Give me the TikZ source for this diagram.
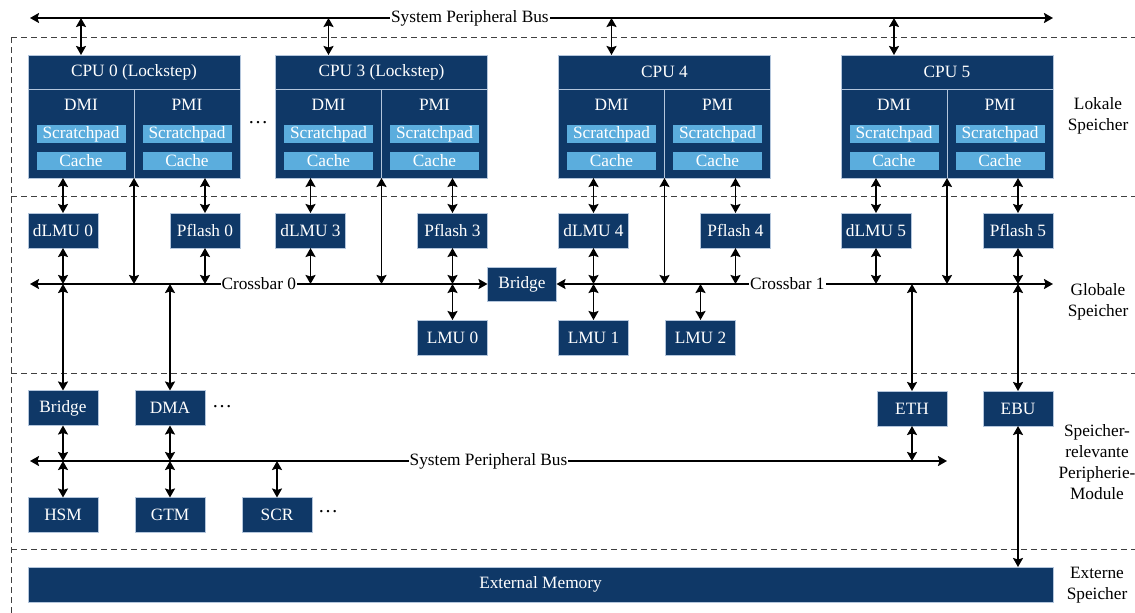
\documentclass[tikz,border=0pt]{standalone}
\usepackage{fontspec}
\setmainfont{Liberation Serif}
\usepackage{tikz}
\usetikzlibrary{arrows.meta, positioning, calc}
\definecolor{navy}{HTML}{0F3867}
\definecolor{sky}{HTML}{5BADDD}
\definecolor{rim}{HTML}{B4C6DC}

\begin{document}
\begin{tikzpicture}[
    x=1pt, y=-1pt,
    font=\fontsize{17.3}{20.8}\selectfont,
    >={Stealth[length=9pt, width=10pt, inset=1.5pt]},
    blk/.style={draw=rim, line width=0.8pt, fill=navy, text=white, inner sep=0pt, outer sep=0pt, minimum width=#1, minimum height=35pt},
    blk/.default=70pt,
    col/.style={blk=106pt, minimum height=89pt},
    mem/.style={fill=sky, text=white, inner sep=0pt, outer sep=0pt, minimum width=89pt, minimum height=18pt},
    link/.style={<->, line width=1.8pt},
    buslbl/.style={fill=white, inner sep=1pt},
    sep/.style={draw=black!75, line width=0.9pt, dash pattern=on 6pt off 4pt},
    side/.style={align=center},
    more/.style={inner sep=0pt, font=\fontsize{20}{20}\selectfont},
]
\useasboundingbox (0,0) rectangle (1135,613);

% Bereiche
\foreach \y in {37,196,373,549}
    \draw[sep] (11,\y) -- (1135,\y);
\draw[sep] (11,37) -- (11,613);

% Busse
\coordinate (spbw) at (30,18);
\coordinate (spbe) at (1053,18);
\coordinate (cb0w) at (30,284);
\coordinate (cb1e) at (1053,284);
\coordinate (spb2w) at (30,461);
\coordinate (spb2e) at (947,461);

\draw[link] (spbw) -- node[buslbl, pos=0.43] (spblbl) {System Peripheral Bus} (spbe);

% CPUs
\foreach \n/\x/\t in {0/134/CPU 0 (Lockstep), 3/381.5/CPU 3 (Lockstep), 4/664.5/CPU 4, 5/947/CPU 5} {
    \node[blk=212pt, minimum height=34pt] (cpu\n) at (\x,72) {\t};
    \node[col, below right=0pt of cpu\n.south west] (cpu\n d) {};
    \node[col, below left=0pt of cpu\n.south east] (cpu\n p) {};
    \foreach \c/\m in {d/DMI, p/PMI} {
        \node[text=white] (cpu\n\c-t) at ($(cpu\n\c.north)+(0,16)$) {\m};
        \node[mem] (cpu\n\c-s) at ($(cpu\n\c.north)+(0,45)$) {Scratchpad};
        \node[mem] (cpu\n\c-c) at ($(cpu\n\c.north)+(0,72)$) {Cache};
    }
    \draw[link] (cpu\n d |- spbw) -- (cpu\n d |- cpu\n.north);

    \node[blk, below right=35pt and 0pt of cpu\n d.south west] (dlmu\n) {dLMU \n};
    \node[blk, below left=35pt and 0pt of cpu\n p.south east] (pflash\n) {Pflash \n};
    \draw[link] (dlmu\n.north) -- (dlmu\n.north |- cpu\n d.south);
    \draw[link] (pflash\n.north) -- (pflash\n.north |- cpu\n p.south);
    \draw[link] (dlmu\n.south) -- (dlmu\n.south |- cb0w);
    \draw[link] (pflash\n.south) -- (pflash\n.south |- cb0w);
    \draw[link] (cpu\n d.south east) -- (cpu\n d.south east |- cb0w);
}
\node[more] (dots0) at (258,123) {…};

% Crossbars
\node[blk=69pt, minimum height=34pt] (xbridge) at (522,284) {Bridge};
\draw[link] (cb0w) -- node[buslbl] (cb0lbl) {Crossbar 0} (xbridge.west);
\draw[link] (xbridge.east) -- node[buslbl, pos=0.465] (cb1lbl) {Crossbar 1} (cb1e);

\node[blk, below=72pt of pflash3] (lmu0) {LMU 0};
\node[blk, below=72pt of dlmu4] (lmu1) {LMU 1};
\node[blk, right=37pt of lmu1] (lmu2) {LMU 2};
\foreach \m in {lmu0, lmu1, lmu2}
    \draw[link] (\m.north) -- (\m.north |- cb0w);

% Peripherie
\node[blk] (pbridge) at (63,408) {Bridge};
\node[blk, right=37pt of pbridge] (dma) {DMA};
\node[more] (dots1) at (222,407) {…};
\node[blk, below=143pt of pflash5] (ebu) {EBU};
\node[blk, left=36pt of ebu] (eth) {ETH};
\node[blk, below=72pt of pbridge] (hsm) {HSM};
\node[blk, below=72pt of dma] (gtm) {GTM};
\node[blk, right=37pt of gtm] (scr) {SCR};
\node[more] (dots2) at (328,512) {…};

\foreach \m in {pbridge, dma, eth, ebu}
    \draw[link] (\m.north) -- (\m.north |- cb0w);

\draw[link] (spb2w) -- node[buslbl] (spb2lbl) {System Peripheral Bus} (spb2e);
\foreach \m in {pbridge, dma, eth}
    \draw[link] (\m.south) -- (\m.south |- spb2w);
\foreach \m in {hsm, gtm, scr}
    \draw[link] (\m.north) -- (\m.north |- spb2w);

% Externer Speicher
\node[blk=1025pt] (extmem) at (540.5,584.5) {External Memory};
\draw[link] (ebu.south) -- (ebu.south |- extmem.north);

% Ebenen
\node[side] (lokal) at (1098,116) {Lokale\\Speicher};
\node[side] (global) at (1098,302) {Globale\\Speicher};
\node[side] (periph) at (1097,462) {Speicher-\\relevante\\Peripherie-\\Module};
\node[side] (extern) at (1097,585) {Externe\\Speicher};

\end{tikzpicture}
\end{document}
